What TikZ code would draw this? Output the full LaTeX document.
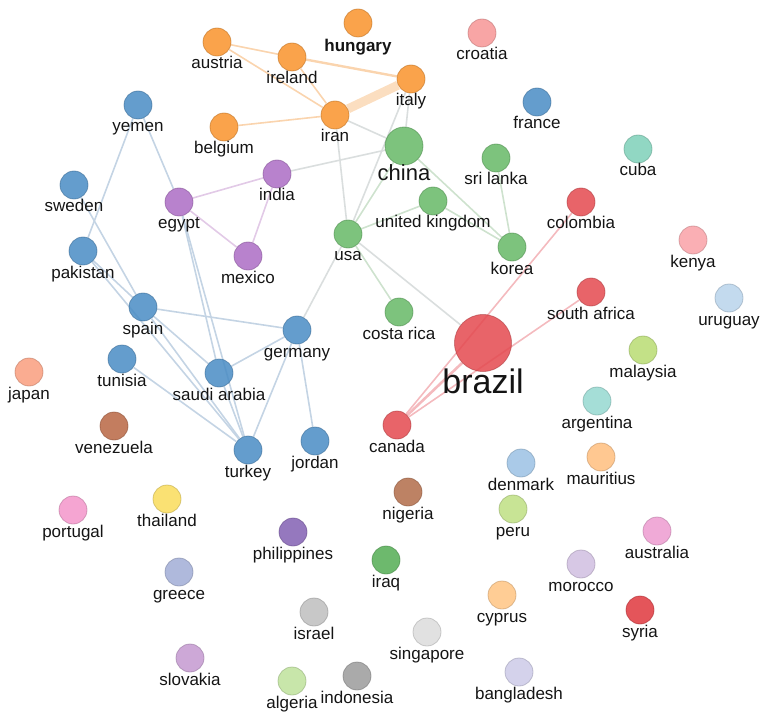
\documentclass[tikz,border=0pt]{standalone}
\usepackage{fontspec}
\setmainfont{Liberation Sans}
\pgfdeclarelayer{bg}
\pgfsetlayers{bg,main}
% node colours (base, shown with opacity)
\definecolor{cOr}{RGB}{249,147,43}
\definecolor{cBl}{RGB}{73,140,196}
\definecolor{cGr}{RGB}{102,184,102}
\definecolor{cRd}{RGB}{228,73,79}
\definecolor{cPu}{RGB}{172,108,196}
\definecolor{cCroatia}{RGB}{247,149,149}
\definecolor{cCuba}{RGB}{126,208,184}
\definecolor{cKenya}{RGB}{249,161,167}
\definecolor{cUruguay}{RGB}{184,211,235}
\definecolor{cMalaysia}{RGB}{184,220,114}
\definecolor{cArgentina}{RGB}{149,216,208}
\definecolor{cJapan}{RGB}{249,157,126}
\definecolor{cVenezuela}{RGB}{184,102,67}
\definecolor{cDenmark}{RGB}{155,193,228}
\definecolor{cMauritius}{RGB}{255,190,126}
\definecolor{cNigeria}{RGB}{178,108,73}
\definecolor{cPortugal}{RGB}{243,149,202}
\definecolor{cThailand}{RGB}{249,220,90}
\definecolor{cPeru}{RGB}{190,223,131}
\definecolor{cPhilippines}{RGB}{131,96,179}
\definecolor{cIraq}{RGB}{84,173,84}
\definecolor{cAustralia}{RGB}{237,155,208}
\definecolor{cMorocco}{RGB}{208,190,225}
\definecolor{cGreece}{RGB}{161,173,214}
\definecolor{cCyprus}{RGB}{255,196,131}
\definecolor{cSyria}{RGB}{223,55,61}
\definecolor{cIsrael}{RGB}{190,190,190}
\definecolor{cSingapore}{RGB}{220,220,220}
\definecolor{cSlovakia}{RGB}{196,153,208}
\definecolor{cAlgeria}{RGB}{190,226,155}
\definecolor{cIndonesia}{RGB}{155,155,155}
\definecolor{cBangladesh}{RGB}{204,202,232}
% edge colours
\definecolor{eOr}{RGB}{250,212,174}
\definecolor{eOrT}{RGB}{251,222,192}
\definecolor{eBl}{RGB}{196,212,228}
\definecolor{eGr}{RGB}{206,226,206}
\definecolor{eGy}{RGB}{218,222,222}
\definecolor{eRd}{RGB}{244,186,190}
\definecolor{ePu}{RGB}{226,202,231}
\definecolor{labc}{RGB}{20,20,20}
\tikzset{
  dot/.style={circle, inner sep=0pt, minimum size=28pt, fill opacity=0.85,
              draw opacity=0.55, line width=0.8pt},
  lab/.style={anchor=base, inner sep=0pt, text=labc,
              font=\fontsize{17}{20}\selectfont},
  eor/.style={draw=eOr, line width=1.6pt},
  ebl/.style={draw=eBl, line width=1.6pt},
  egr/.style={draw=eGr, line width=1.6pt},
  egy/.style={draw=eGy, line width=1.6pt},
  erd/.style={draw=eRd, line width=1.6pt},
  epu/.style={draw=ePu, line width=1.6pt},
}
\newcommand\ctry[5]{%
  \node[dot, fill=#4, draw=#4!75!black] (#1) at (#2,#3) {};
  \node[lab] (#1-l) at (#2,#3+27) {#5};}
\begin{document}
\begin{tikzpicture}[x=1pt, y=-1pt]
\useasboundingbox (0,0) rectangle (765,719);
% orange group
\node[dot, fill=cOr, draw=cOr!75!black] (hungary) at (358,23) {};
\node[lab, font=\bfseries\fontsize{17}{20}\selectfont] (hungary-l) at (358,52) {hungary};
\ctry{austria}{217}{42}{cOr}{austria}
\ctry{ireland}{292}{57}{cOr}{ireland}
\ctry{italy}{411}{79}{cOr}{italy}
\ctry{iran}{335}{115}{cOr}{iran}
\ctry{belgium}{224}{127}{cOr}{belgium}
% green group
\node[dot, minimum size=38pt, fill=cGr, draw=cGr!75!black] (china) at (404,146) {};
\node[lab, font=\fontsize{22}{26}\selectfont] (china-l) at (404,181) {china};
\ctry{uk}{433}{201}{cGr}{united kingdom}
\ctry{srilanka}{496}{158}{cGr}{sri lanka}
\ctry{usa}{348}{234}{cGr}{usa}
\ctry{korea}{512}{247}{cGr}{korea}
\ctry{costarica}{399}{312}{cGr}{costa rica}
% red group
\node[dot, minimum size=57pt, fill=cRd, draw=cRd!75!black] (brazil) at (483,343) {};
\node[lab, font=\fontsize{34}{40}\selectfont] (brazil-l) at (483,393) {brazil};
\ctry{colombia}{581}{202}{cRd}{colombia}
\ctry{southafrica}{591}{292}{cRd}{south africa}
\ctry{canada}{397}{425}{cRd}{canada}
% purple group
\ctry{india}{277}{174}{cPu}{india}
\ctry{egypt}{179}{202}{cPu}{egypt}
\ctry{mexico}{248}{256}{cPu}{mexico}
% blue group
\ctry{yemen}{138}{105}{cBl}{yemen}
\ctry{sweden}{74}{185}{cBl}{sweden}
\ctry{pakistan}{83}{251}{cBl}{pakistan}
\ctry{spain}{143}{307}{cBl}{spain}
\ctry{germany}{297}{330}{cBl}{germany}
\ctry{tunisia}{122}{359}{cBl}{tunisia}
\ctry{saudi}{219}{373}{cBl}{saudi arabia}
\ctry{turkey}{248}{450}{cBl}{turkey}
\ctry{jordan}{315}{441}{cBl}{jordan}
\ctry{france}{537}{102}{cBl}{france}
% singletons
\ctry{croatia}{482}{33}{cCroatia}{croatia}
\ctry{cuba}{638}{149}{cCuba}{cuba}
\ctry{kenya}{693}{240}{cKenya}{kenya}
\ctry{uruguay}{729}{298}{cUruguay}{uruguay}
\ctry{malaysia}{643}{350}{cMalaysia}{malaysia}
\ctry{argentina}{597}{401}{cArgentina}{argentina}
\ctry{japan}{29}{372}{cJapan}{japan}
\ctry{venezuela}{114}{426}{cVenezuela}{venezuela}
\ctry{denmark}{521}{463}{cDenmark}{denmark}
\ctry{mauritius}{601}{457}{cMauritius}{mauritius}
\ctry{nigeria}{408}{492}{cNigeria}{nigeria}
\ctry{portugal}{73}{510}{cPortugal}{portugal}
\ctry{thailand}{167}{499}{cThailand}{thailand}
\ctry{peru}{513}{509}{cPeru}{peru}
\ctry{philippines}{293}{532}{cPhilippines}{philippines}
\ctry{iraq}{386}{560}{cIraq}{iraq}
\ctry{australia}{657}{531}{cAustralia}{australia}
\ctry{morocco}{581}{564}{cMorocco}{morocco}
\ctry{greece}{179}{572}{cGreece}{greece}
\ctry{cyprus}{502}{595}{cCyprus}{cyprus}
\ctry{syria}{640}{610}{cSyria}{syria}
\ctry{israel}{314}{612}{cIsrael}{israel}
\ctry{singapore}{427}{632}{cSingapore}{singapore}
\ctry{slovakia}{190}{658}{cSlovakia}{slovakia}
\ctry{algeria}{292}{681}{cAlgeria}{algeria}
\ctry{indonesia}{357}{676}{cIndonesia}{indonesia}
\ctry{bangladesh}{519}{672}{cBangladesh}{bangladesh}
% edges
\begin{pgfonlayer}{bg}
  % orange
  \draw[eor] (austria) -- (ireland);
  \draw[eor, line width=2.4pt] (ireland) -- (italy);
  \draw[eor] (austria) -- (iran);
  \draw[eor] (ireland) -- (iran);
  \draw[draw=eOrT, line width=9pt] (iran) -- (italy);
  \draw[eor] (belgium) -- (iran);
  % mixed
  \draw[egy] (iran) -- (china);
  \draw[egy] (iran) -- (usa);
  \draw[egy] (italy) -- (china);
  \draw[egy] (italy) -- (usa);
  \draw[egy] (india) -- (china);
  \draw[egy] (usa) -- (germany);
  \draw[egy] (usa) -- (brazil);
  % green
  \draw[egr] (china) -- (usa);
  \draw[egr] (uk) -- (usa);
  \draw[egr] (china) -- (korea);
  \draw[egr] (uk) -- (korea);
  \draw[egr] (srilanka) -- (korea);
  \draw[egr] (usa) -- (costarica);
  % red
  \draw[erd] (canada) -- (colombia);
  \draw[erd] (canada) -- (southafrica);
  \draw[erd, line width=2.6pt] (canada) -- (brazil);
  % purple
  \draw[epu] (egypt) -- (india);
  \draw[epu] (egypt) -- (mexico);
  \draw[epu] (india) -- (mexico);
  % blue
  \draw[ebl] (yemen) -- (pakistan);
  \draw[ebl] (yemen) -- (egypt);
  \draw[ebl] (sweden) -- (spain);
  \draw[ebl] (pakistan) -- (spain);
  \draw[ebl] (pakistan) -- (turkey);
  \draw[ebl] (spain) -- (germany);
  \draw[ebl] (spain) -- (saudi);
  \draw[ebl] (spain) -- (turkey);
  \draw[ebl] (egypt) -- (saudi);
  \draw[ebl] (egypt) -- (turkey);
  \draw[ebl] (tunisia) -- (turkey);
  \draw[ebl] (saudi) -- (germany);
  \draw[ebl] (saudi) -- (turkey);
  \draw[ebl] (germany) -- (turkey);
  \draw[ebl] (germany) -- (jordan);
\end{pgfonlayer}
\end{tikzpicture}
\end{document}
